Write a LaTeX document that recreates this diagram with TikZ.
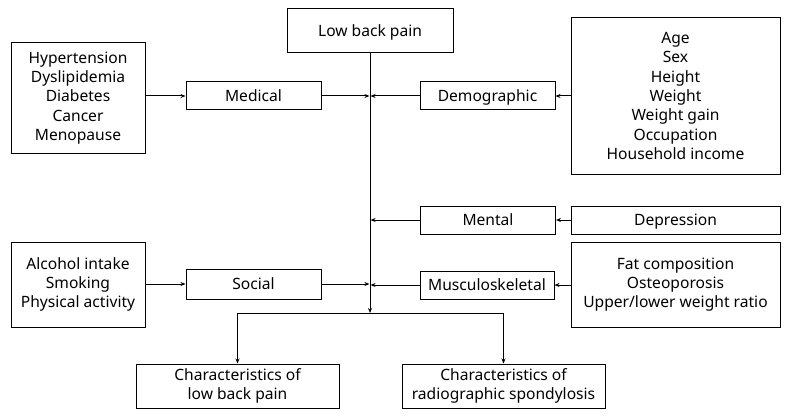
\documentclass[tikz,border=0pt]{standalone}
\usepackage{fontspec}
\setmainfont{Noto Sans}
\usetikzlibrary{arrows.meta}
\begin{document}
\begin{tikzpicture}[x=1pt,y=-1pt,
  box/.style={draw,line width=1pt,align=center,inner sep=0pt,
    font=\fontsize{15.6}{19.3}\selectfont},
  oneline/.style={box,text height=14pt,text depth=3pt},
  arr/.style={line width=1pt,-{Stealth[length=5pt,width=4pt]}}]
\useasboundingbox (0,0) rectangle (792,417);
% outcome at top
\node[oneline,minimum width=166pt,minimum height=44pt] (lbp) at (370,31) {Low back pain};
% factor groups
\node[oneline,minimum width=135pt,minimum height=28pt] (med) at (253.5,96) {Medical};
\node[oneline,minimum width=135pt,minimum height=28pt] (dem) at (487.5,96) {Demographic};
\node[oneline,minimum width=135pt,minimum height=28pt] (men) at (488,220) {Mental};
\node[oneline,minimum width=135pt,minimum height=30pt] (soc) at (253.5,284) {Social};
\node[oneline,minimum width=134pt,minimum height=28pt] (msk) at (487,285) {Musculoskeletal};
% variable lists
\node[box,minimum width=134pt,minimum height=110pt] (medv) at (78,98)
  {Hypertension\\Dyslipidemia\\Diabetes\\Cancer\\Menopause};
\node[box,minimum width=209pt,minimum height=156pt] (demv) at (675.5,96)
  {Age\\Sex\\Height\\Weight\\Weight gain\\Occupation\\Household income};
\node[oneline,minimum width=209pt,minimum height=28pt] (menv) at (675.5,220) {Depression};
\node[box,minimum width=134pt,minimum height=85pt] (socv) at (78,284.5)
  {Alcohol intake\\Smoking\\Physical activity};
\node[box,minimum width=209pt,minimum height=85pt] (mskv) at (675.5,284.5)
  {Fat composition\\Osteoporosis\\Upper/lower weight ratio};
% characteristics at bottom
\node[box,minimum width=203pt,minimum height=44pt] (clbp) at (237.5,386)
  {Characteristics of\\low back pain};
\node[box,minimum width=203pt,minimum height=44pt] (crs) at (503.5,386)
  {Characteristics of\\radiographic spondylosis};
% spine and split
\coordinate (j) at (370,313);
\draw[arr] (lbp.south) -- (j);
\draw[arr] (j) -| (clbp.north);
\draw[arr] (j) -| (crs.north);
% variables into groups
\draw[arr] (medv.east |- med.west) -- (med.west);
\draw[arr] (socv.east |- soc.west) -- (soc.west);
\draw[arr] (demv.west |- dem.east) -- (dem.east);
\draw[arr] (menv.west) -- (men.east);
\draw[arr] (mskv.west |- msk.east) -- (msk.east);
% groups into the spine
\draw[arr,shorten >=0.6pt] (med.east) -- (med.east -| lbp.south);
\draw[arr,shorten >=0.6pt] (dem.west) -- (dem.west -| lbp.south);
\draw[arr,shorten >=0.6pt] (men.west) -- (men.west -| lbp.south);
\draw[arr,shorten >=0.6pt] (soc.east) -- (soc.east -| lbp.south);
\draw[arr,shorten >=0.6pt] (msk.west) -- (msk.west -| lbp.south);
\end{tikzpicture}
\end{document}
